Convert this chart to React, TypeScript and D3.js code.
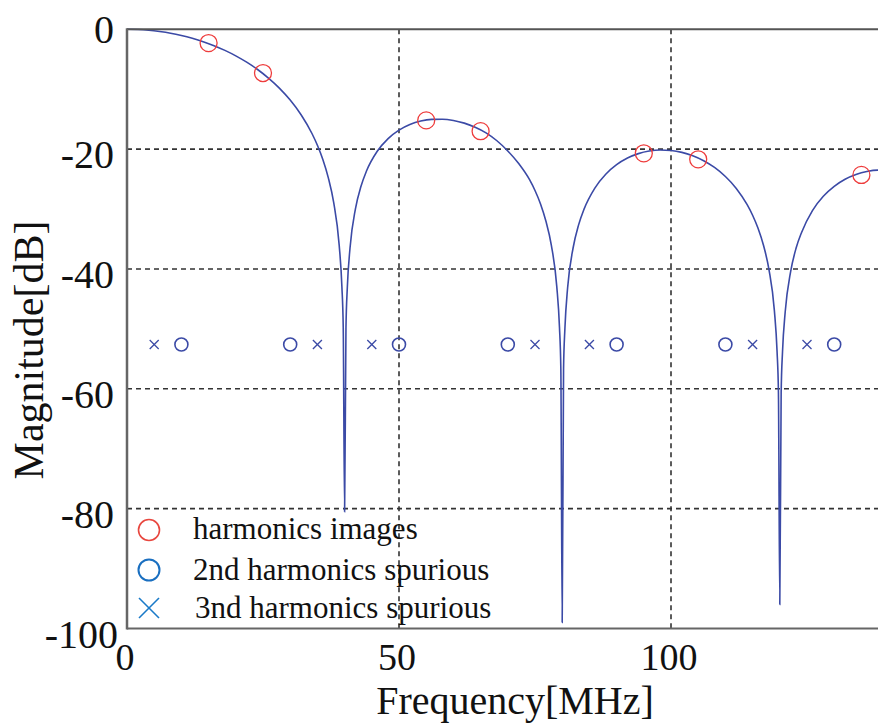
import React from "react";
import * as d3 from "d3";

// Magnitude response: [frequency MHz, magnitude dB]
const responseCurve: [number, number][] = [
  [0, 0], [2, -0.04], [4, -0.16], [6, -0.37], [8, -0.65], [10, -1.03], [12, -1.5], [14, -2.06],
  [16, -2.73], [18, -3.52], [20, -4.43], [22, -5.49], [24, -6.71], [26, -8.14], [28, -9.81],
  [30, -11.81], [32, -14.26], [34, -17.39], [35, -19.35], [36, -21.73], [37, -24.75], [38, -28.94],
  [39, -35.97], [39.5, -42.9], [39.75, -49.8], [40, -80.5], [40.25, -49.9], [40.5, -43.1],
  [41, -36.46], [42, -29.92], [43, -26.23], [44, -23.7], [46, -20.36], [48, -18.24], [50, -16.83],
  [52, -15.89], [54, -15.31], [56, -15.03], [58, -15.0], [60, -15.21], [62, -15.66], [64, -16.34],
  [66, -17.28], [68, -18.6], [70, -20.3], [72, -22.4], [74, -25.1], [75, -26.9], [76, -29.1],
  [77, -32.0], [78, -36.0], [79, -42.9], [79.5, -49.75], [79.75, -56.6], [80, -99], [80.25, -56.6],
  [80.5, -49.9], [81, -43.1], [82, -36.5], [83, -32.68], [84, -30.05], [86, -26.5], [88, -24.19],
  [90, -22.6], [92, -21.49], [94, -20.75], [96, -20.32], [98, -20.15], [100, -20.23], [102, -20.54],
  [104, -21.11], [106, -21.93], [108, -23.06], [110, -24.57], [112, -26.56], [114, -29.27],
  [115, -31.03], [116, -33.21], [117, -36.05], [118, -40.06], [119, -46.9], [119.5, -53.8],
  [119.75, -60.6], [120, -96], [120.25, -60.6], [120.5, -53.8], [121, -47.1], [122, -40.4],
  [123, -36.5], [124, -33.9], [126, -30.25], [128, -27.87], [130, -26.21], [132, -25.03],
  [134, -24.24], [136, -23.74], [138, -23.51], [140, -23.53],
];

// harmonics images (red circles)
const imageFreq = [15, 25, 55, 65, 95, 105, 135];
const imageMag = [-2.3, -7.3, -15.2, -17.0, -20.7, -21.7, -24.3];

// 2nd harmonics spurious (blue circles)
const spur2Freq = [10, 30, 50, 70, 90, 110, 130];
const spur2Mag = [-52.6, -52.6, -52.6, -52.6, -52.6, -52.6, -52.6];

// 3rd harmonics spurious (blue crosses)
const spur3Freq = [5, 35, 45, 75, 85, 115, 125];
const spur3Mag = [-52.6, -52.6, -52.6, -52.6, -52.6, -52.6, -52.6];

const xTicks = [0, 50, 100];
const yTicks = [0, -20, -40, -60, -80, -100];
const xGrid = [50, 100];
const yGrid = [-20, -40, -60, -80];

const legendLabels = ["harmonics images", "2nd harmonics spurious", "3nd harmonics spurious"];

const W = 878;
const H = 723;
const FONT = "'Liberation Serif', 'Times New Roman', Times, serif";

export default function App() {
  const x = d3.scaleLinear().domain([0, 100]).range([127, 671]);
  const y = d3.scaleLinear().domain([0, -100]).range([29.3, 628.5]);
  const left = x(0);
  const right = W;
  const top = y(0);
  const bottom = y(-100);

  const line = d3
    .line<[number, number]>()
    .x((d) => x(d[0]))
    .y((d) => y(d[1]))
    .curve(d3.curveMonotoneX);

  const curveColor = "#3b4aa6";
  const xSize = 4.5;

  return (
    <svg
      width={W}
      height={H}
      style={{ position: "absolute", left: 0, top: 0, background: "#fff" }}
      fontFamily={FONT}
    >
      <defs>
        <clipPath id="plotClip">
          <rect x={left} y={top - 2} width={right - left} height={bottom - top + 4} />
        </clipPath>
      </defs>

      {/* grid */}
      {yGrid.map((v) => (
        <line key={"gy" + v} x1={left} x2={right} y1={y(v)} y2={y(v)} stroke="#333" strokeWidth={1.6} strokeDasharray="5,4" />
      ))}
      {xGrid.map((v) => (
        <line key={"gx" + v} x1={x(v)} x2={x(v)} y1={top} y2={bottom} stroke="#333" strokeWidth={1.6} strokeDasharray="5,4" />
      ))}

      {/* curve */}
      <g clipPath="url(#plotClip)">
        <path d={line(responseCurve) || ""} fill="none" stroke={curveColor} strokeWidth={1.6} />

        {imageFreq.map((f, i) => (
          <circle key={"im" + i} cx={x(f)} cy={y(imageMag[i])} r={8.5} fill="none" stroke="#ee3d3d" strokeWidth={1.3} />
        ))}
        {spur2Freq.map((f, i) => (
          <circle key={"s2" + i} cx={x(f)} cy={y(spur2Mag[i])} r={6.5} fill="none" stroke={curveColor} strokeWidth={1.6} />
        ))}
        {spur3Freq.map((f, i) => {
          const cx = x(f);
          const cy = y(spur3Mag[i]);
          return (
            <g key={"s3" + i} stroke={curveColor} strokeWidth={1.3}>
              <line x1={cx - xSize} y1={cy - xSize} x2={cx + xSize} y2={cy + xSize} />
              <line x1={cx - xSize} y1={cy + xSize} x2={cx + xSize} y2={cy - xSize} />
            </g>
          );
        })}
      </g>

      {/* frame */}
      <line x1={left} x2={right} y1={top} y2={top} stroke="#555" strokeWidth={2} />
      <line x1={left} x2={right} y1={bottom} y2={bottom} stroke="#666" strokeWidth={2} />
      <line x1={left} x2={left} y1={top - 1} y2={bottom + 1} stroke="#666" strokeWidth={2.5} />

      {/* y tick labels */}
      {yTicks.map((v) => (
        <text
          key={"yt" + v}
          x={v === -100 ? 118 : 114}
          y={v === 0 ? 43 : y(v) + 19}
          textAnchor="end"
          fontSize={40}
          fill="#111"
        >
          {v}
        </text>
      ))}
      {/* x tick labels */}
      {xTicks.map((v) => (
        <text key={"xt" + v} x={x(v) - 2} y={670} textAnchor="middle" fontSize={38} fill="#111">
          {v}
        </text>
      ))}

      {/* axis titles */}
      <text x={515} y={714} textAnchor="middle" fontSize={40} fill="#111">
        Frequency[MHz]
      </text>
      <text transform="translate(43,350) rotate(-90)" textAnchor="middle" fontSize={42} fill="#111">
        Magnitude[dB]
      </text>

      {/* legend */}
      <g>
        <circle cx={149} cy={530} r={10.5} fill="none" stroke="#e8473f" strokeWidth={1.6} />
        <circle cx={149} cy={570} r={10.5} fill="none" stroke="#1a6fc0" strokeWidth={2} />
        <g stroke="#1a7ac8" strokeWidth={1.6}>
          <line x1={139} y1={598} x2={159} y2={618} />
          <line x1={139} y1={618} x2={159} y2={598} />
        </g>
        {legendLabels.map((t, i) => (
          <text key={t} x={i === 2 ? 195 : 193} y={[539, 580, 618][i]} fontSize={31} fill="#111">
            {t}
          </text>
        ))}
      </g>
    </svg>
  );
}
